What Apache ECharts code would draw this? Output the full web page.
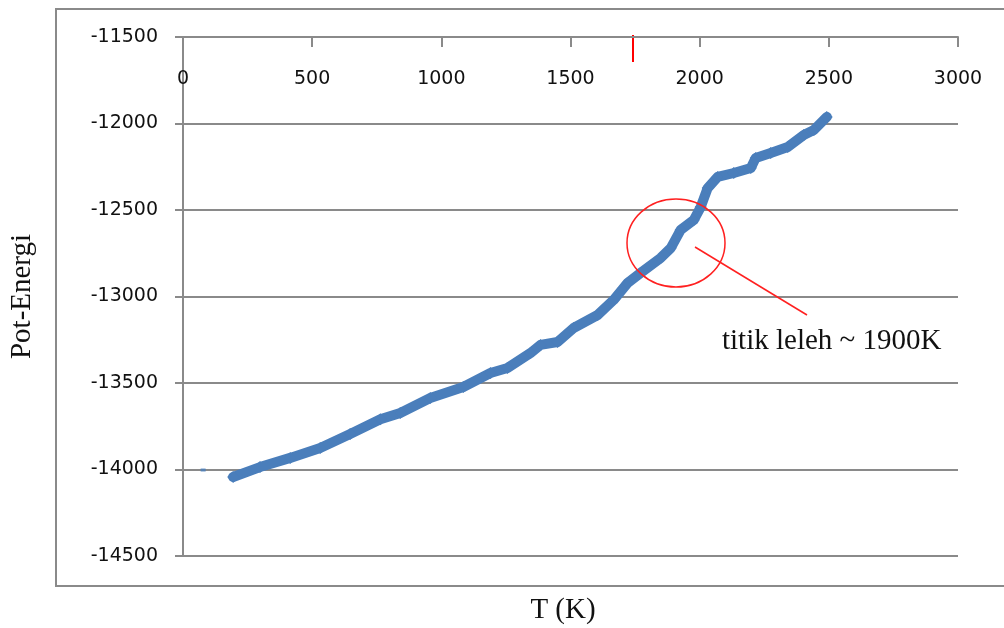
<!DOCTYPE html>
<html>
<head>
<meta charset="utf-8">
<script src="https://cdn.jsdelivr.net/npm/echarts@6/dist/echarts.min.js"></script>
<style>html,body{margin:0;padding:0;background:#fff}#c{width:1004px;height:628px}</style>
</head>
<body>
<div id="c"></div>
<script>
// Temperature (K) and potential energy
const T = [194, 298, 415, 531, 647, 764, 841, 957, 1085, 1190, 1256, 1345, 1384, 1450, 1512, 1605, 1667, 1721, 1771, 1849, 1888, 1926, 1977, 2004, 2031, 2070, 2132, 2198, 2217, 2275, 2341, 2403, 2442, 2492];
const E = [-14043, -13986, -13933, -13876, -13795, -13710, -13673, -13587, -13523, -13442, -13413, -13327, -13280, -13263, -13182, -13107, -13020, -12922, -12864, -12777, -12720, -12616, -12558, -12483, -12373, -12309, -12286, -12257, -12199, -12170, -12136, -12066, -12038, -11962];
const strayT = [78];
const strayE = [-14003];
const xTicks = [0, 500, 1000, 1500, 2000, 2500, 3000];
const yTicks = [-14500, -14000, -13500, -13000, -12500, -12000, -11500];
const xTitle = 'T (K)';
const yTitle = 'Pot-Energi';
const note = 'titik leleh ~ 1900K';

const chart = echarts.init(document.getElementById('c'), null, {renderer: 'canvas'});
const gray = '#8a8a8a';
const lbl = {fontFamily: 'DejaVu Sans', fontSize: 19, color: '#111', formatter: v => String(v)};
chart.setOption({
  animation: false,
  backgroundColor: '#fff',
  grid: {left: 183, top: 37, right: 46, bottom: 72, containLabel: false, outerBoundsMode: 'none'},
  xAxis: {
    type: 'value', position: 'top',
    min: xTicks[0], max: xTicks[xTicks.length - 1], interval: 500,
    axisLine: {show: true, onZero: false, lineStyle: {color: gray, width: 2}},
    axisTick: {show: true, inside: true, length: 10, lineStyle: {color: gray, width: 2}},
    axisLabel: Object.assign({inside: true, margin: 33}, lbl),
    splitLine: {show: false}
  },
  yAxis: {
    type: 'value',
    min: yTicks[0], max: yTicks[yTicks.length - 1], interval: 500,
    name: yTitle, nameLocation: 'middle', nameGap: 146, nameRotate: 90,
    nameTextStyle: {fontFamily: 'Liberation Serif', fontSize: 29, color: '#111'},
    axisLine: {show: true, lineStyle: {color: gray, width: 2}},
    axisTick: {show: true, length: 8, lineStyle: {color: gray, width: 2}},
    axisLabel: Object.assign({margin: 25}, lbl),
    splitLine: {show: true, lineStyle: {color: gray, width: 2}}
  },
  series: [
    {
      type: 'line', data: T.map((t, i) => [t, E[i]]),
      showSymbol: true, symbol: 'diamond', symbolSize: 12,
      itemStyle: {color: '#4a7ebb'},
      lineStyle: {color: '#4a7ebb', width: 10, join: 'round', cap: 'round'},
      z: 3
    },
    {
      type: 'scatter', data: strayT.map((t, i) => [t, strayE[i]]),
      symbol: 'rect', symbolSize: [5, 3], itemStyle: {color: '#4a7ebb'}
    }
  ],
  graphic: [
    {type: 'rect', shape: {x: 56, y: 9, width: 960, height: 577}, style: {fill: 'none', stroke: gray, lineWidth: 2}, silent: true},
    {type: 'line', shape: {x1: 633, y1: 35, x2: 633, y2: 62}, style: {stroke: '#ff0000', lineWidth: 2}},
    {type: 'ellipse', shape: {cx: 676, cy: 243, rx: 49, ry: 44}, style: {fill: 'none', stroke: '#ff2020', lineWidth: 1.5}, z: 10},
    {type: 'line', shape: {x1: 695, y1: 247, x2: 807, y2: 315}, style: {stroke: '#ff2020', lineWidth: 1.5}, z: 10},
    {type: 'text', x: 722, y: 341, style: {text: note, fontFamily: 'Liberation Serif', fontSize: 29, fill: '#111', textVerticalAlign: 'middle'}, z: 10},
    {type: 'text', x: 563, y: 610, style: {text: xTitle, fontFamily: 'Liberation Serif', fontSize: 29, fill: '#111', textAlign: 'center', textVerticalAlign: 'middle'}, z: 10}
  ]
});
</script>
</body>
</html>
